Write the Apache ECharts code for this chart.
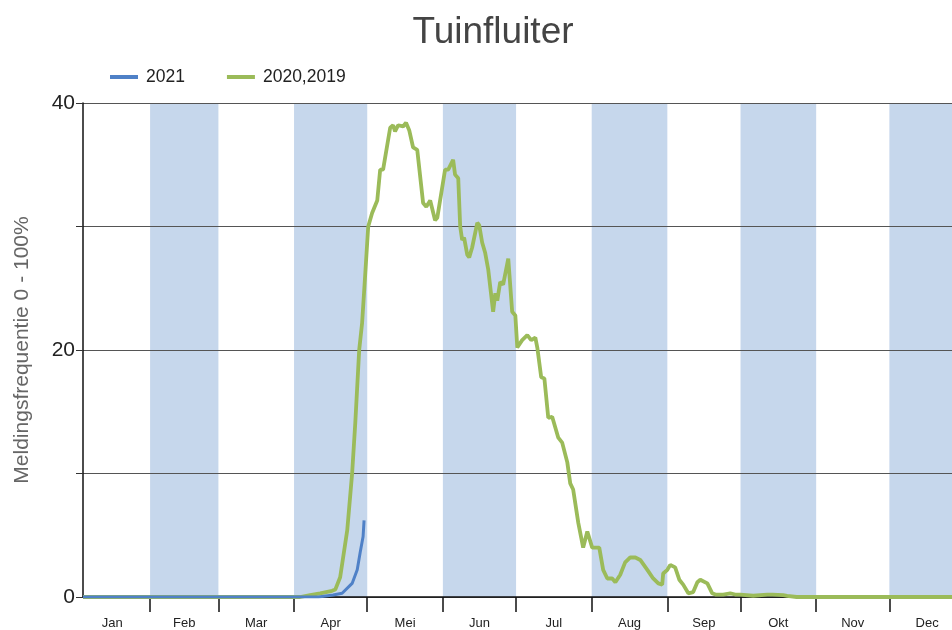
<!DOCTYPE html>
<html>
<head>
<meta charset="utf-8">
<script src="https://cdn.jsdelivr.net/npm/echarts@6/dist/echarts.min.js"></script>
<style>
  html, body { margin: 0; padding: 0; background: #fff; }
  #chart { width: 952px; height: 630px; }
</style>
</head>
<body>
<div id="chart"></div>
<script>
var monthNames = ['Jan', 'Feb', 'Mar', 'Apr', 'Mei', 'Jun', 'Jul', 'Aug', 'Sep', 'Okt', 'Nov', 'Dec'];
var monthStarts = [0, 31, 59, 90, 120, 151, 181, 212, 243, 273, 304, 334, 365];
var shadedMonths = [1, 3, 5, 7, 9, 11];
var yTicks = [0, 20, 40];

// dag van het jaar (0 = 1 jan) en meldingsfrequentie
var daysOld = [3.5, 92.5, 96.6, 100.7, 105.6, 106.9, 108.9, 111.8, 113.8, 115.1, 116.7, 117.9, 119.1, 120.4, 122, 124.1, 125.3, 126.5, 129.4, 130.6, 131.4, 132.7, 134.7, 135.9, 137.2, 138.8, 140.5, 142.9, 144.2, 145.8, 147.8, 148.7, 151.9, 153.2, 155.2, 156, 157.3, 158.1, 158.9, 159.7, 161, 161.8, 163, 163.8, 165.1, 165.9, 167.1, 168.3, 169.6, 171.6, 172.5, 173.3, 174.5, 175.7, 177.8, 179.4, 180.7, 181.5, 183.5, 185.6, 187.2, 188.9, 189.7, 191.3, 192.6, 194.2, 195.8, 198.3, 199.9, 202, 203.2, 204.4, 206.5, 208.5, 210.2, 212.2, 213.4, 215.1, 216.7, 218.4, 220.4, 221.7, 223.7, 225.7, 227.8, 229.9, 231.9, 234.8, 237.2, 239.3, 240.9, 241.3, 243, 244.2, 246.2, 247.9, 249.5, 251.6, 253.6, 255.3, 256.5, 259.4, 261.4, 262.7, 265.9, 268.8, 270.8, 272.9, 278.2, 284, 286, 290.5, 292.1, 296, 365];
var valuesOld = [0, 0, 0.16, 0.3, 0.5, 0.6, 1.6, 5.4, 10, 14.1, 20, 22.2, 25.9, 30, 31.1, 32.1, 34.6, 34.6, 38, 38.2, 37.7, 38.2, 38.1, 38.4, 37.8, 36.4, 36.2, 31.9, 31.6, 32.1, 30.5, 30.7, 34.6, 34.6, 35.4, 34.2, 33.9, 30, 28.9, 29.1, 27.7, 27.5, 28.3, 28.3, 30.3, 30.1, 28.7, 27.9, 26.5, 23.1, 24.6, 24, 25.5, 25.3, 27.4, 23.1, 22.8, 20.2, 20.8, 21.2, 20.8, 21, 20.2, 17.8, 17.7, 14.5, 14.6, 12.9, 12.5, 10.9, 9.2, 8.7, 6, 4, 5.3, 4, 4, 4, 2.2, 1.5, 1.5, 1.2, 1.8, 2.8, 3.2, 3.2, 3, 2.2, 1.5, 1.1, 1, 1.9, 2.2, 2.6, 2.4, 1.4, 1, 0.3, 0.4, 1.2, 1.4, 1.1, 0.3, 0.2, 0.2, 0.3, 0.2, 0.2, 0.1, 0.2, 0.2, 0.15, 0.1, 0, 0];

var days2021 = [3.5, 100, 106, 109.7, 113.8, 115.9, 117.1, 118.3, 118.7];
var values2021 = [0, 0, 0.16, 0.3, 1.1, 2.2, 3.6, 4.9, 6.2];

function pairs(xs, ys) {
    var out = [];
    for (var i = 0; i < xs.length; i++) {
        out.push([xs[i], ys[i]]);
    }
    return out;
}

var bands = shadedMonths.map(function (m) {
    return [{ xAxis: monthStarts[m] }, { xAxis: monthStarts[m + 1] }];
});
var labelDays = monthNames.map(function (n, i) {
    return (monthStarts[i] + monthStarts[i + 1]) / 2;
});

var chart = echarts.init(document.getElementById('chart'));

var option = {
    animation: false,
    title: {
        text: 'Tuinfluiter',
        left: 488,
        textAlign: 'center',
        top: 9,
        textStyle: { fontFamily: 'Liberation Sans', fontSize: 37, fontWeight: 'normal', color: '#444' }
    },
    legend: {
        data: ['2021', '2020,2019'],
        left: 110,
        top: 68,
        padding: 0,
        icon: 'rect',
        itemWidth: 28,
        itemHeight: 4,
        itemGap: 42,
        textStyle: { fontFamily: 'Liberation Sans', fontSize: 17.5, color: '#222', padding: [0, 0, 0, 3] }
    },
    grid: {
        left: 83,
        top: 103,
        width: 882,
        height: 494,
        outerBoundsMode: 'none'
    },
    xAxis: {
        type: 'value',
        min: 3.5,
        max: 365,
        z: 4,
        axisLine: { lineStyle: { color: '#111', width: 1.5 } },
        axisTick: {
            customValues: monthStarts.slice(1, 12),
            length: 15,
            lineStyle: { color: '#111', width: 1.5 }
        },
        axisLabel: {
            customValues: labelDays,
            margin: 20,
            fontFamily: 'Liberation Sans',
            fontSize: 13,
            color: '#222',
            formatter: function (v) {
                return monthNames[labelDays.indexOf(v)];
            }
        },
        splitLine: { show: false }
    },
    yAxis: {
        type: 'value',
        min: 0,
        max: 40,
        interval: 10,
        z: 4,
        name: 'Meldingsfrequentie 0 - 100%',
        nameLocation: 'middle',
        nameGap: 50,
        nameTextStyle: { fontFamily: 'Liberation Sans', fontSize: 21, color: '#666' },
        axisLine: { show: true, lineStyle: { color: '#111', width: 1.5 } },
        axisTick: { show: true, length: 7, lineStyle: { color: '#333' } },
        axisLabel: {
            margin: 8,
            fontFamily: 'Liberation Sans',
            fontSize: 21,
            color: '#222',
            formatter: function (v) {
                return yTicks.indexOf(v) >= 0 ? v : '';
            }
        },
        splitLine: { lineStyle: { color: '#555', width: 1.2 } }
    },
    series: [
        {
            name: 'bands',
            type: 'line',
            data: [],
            z: 1,
            silent: true,
            markArea: {
                silent: true,
                z: 1,
                itemStyle: { color: '#c6d7ec', opacity: 1 },
                data: bands
            }
        },
        {
            name: '2020,2019',
            type: 'line',
            data: pairs(daysOld, valuesOld),
            showSymbol: false,
            z: 5,
            lineStyle: { color: '#9bbb59', width: 3.8 },
            itemStyle: { color: '#9bbb59' }
        },
        {
            name: '2021',
            type: 'line',
            data: pairs(days2021, values2021),
            showSymbol: false,
            z: 6,
            lineStyle: { color: '#4f81c7', width: 3 },
            itemStyle: { color: '#4f81c7' }
        }
    ]
};

chart.setOption(option);
</script>
</body>
</html>
